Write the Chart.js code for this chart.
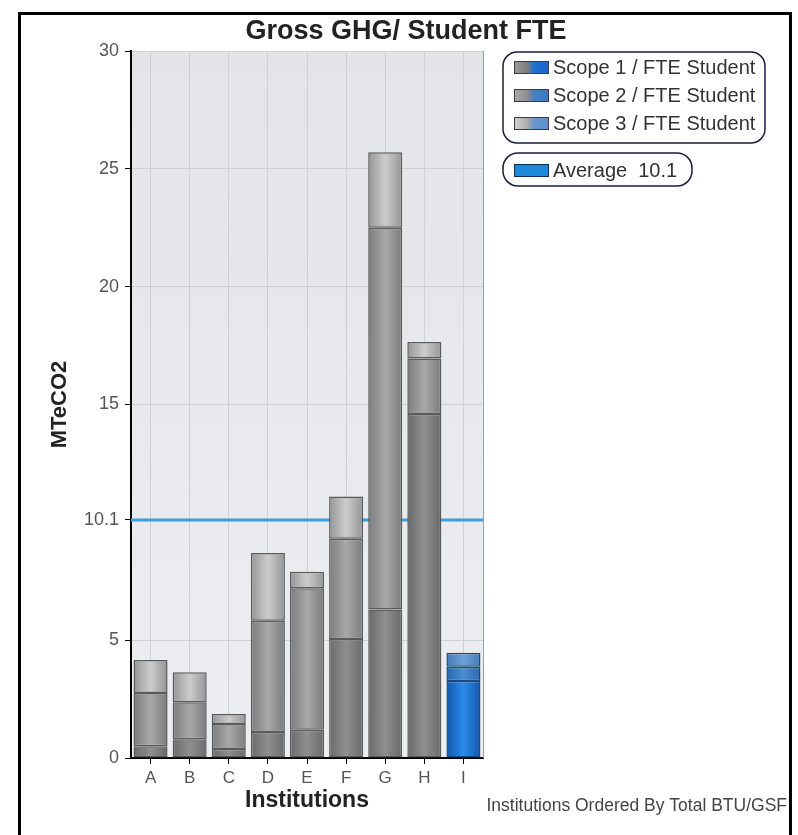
<!DOCTYPE html>
<html>
<head>
<meta charset="utf-8">
<script src="https://cdn.jsdelivr.net/npm/chart.js@4/dist/chart.umd.min.js"></script>
<style>
  html, body { margin: 0; padding: 0; background: #fff; }
  #wrap { position: relative; width: 798px; height: 835px; }
  #frame { position: absolute; left: 18px; top: 12px; width: 768px; height: 840px;
           border: 3px solid #000; border-bottom: none; pointer-events: none; }
</style>
</head>
<body>
<div id="wrap">
  <canvas id="chart"></canvas>
  <div id="frame"></div>
</div>
<script>
const institutions = ['A', 'B', 'C', 'D', 'E', 'F', 'G', 'H', 'I'];
const scope1 = [0.5, 0.8, 0.38, 1.1, 1.2, 5.05, 6.3, 14.6, 3.27];
const scope2 = [2.26, 1.57, 1.06, 4.72, 6.0, 4.25, 16.2, 2.35, 0.6];
const scope3 = [1.4, 1.27, 0.43, 2.88, 0.7, 1.8, 3.2, 0.7, 0.6];
const seriesLabels = ['Scope 1 / FTE Student', 'Scope 2 / FTE Student', 'Scope 3 / FTE Student'];
const average = 10.1;
const yTicks = [0, 5, 10.1, 15, 20, 25, 30];
const highlighted = 'I';

const FONT = "Arial, 'Liberation Sans', sans-serif";
const BAR_PCT = 0.87;

// edge / centre shades for each scope, grey bars and the blue one
const greys = [['#6a6a6a', '#8f8f8f'], ['#7c7c7c', '#a8a8a8'], ['#959595', '#cccccc']];
const blues = [['#1256ae', '#2a8ceb'], ['#2a68ae', '#4b8cd3'], ['#467cb6', '#6ea2d8']];
const swatchStops = [
  ['#9a9a9a', '#7c7c7c', '#2472cc', '#1767cc'],
  ['#ababab', '#8c8c8c', '#4a82c2', '#3a78c0'],
  ['#d4d4d4', '#a9a9a9', '#6c9ace', '#5b8dca']
];

function barFill(scope) {
  return (c) => {
    const chart = c.chart;
    const pal = institutions[c.dataIndex] === highlighted ? blues[scope] : greys[scope];
    if (!chart.chartArea || !chart.scales.x) return pal[0];
    const xs = chart.scales.x;
    const cx = xs.getPixelForValue(c.dataIndex);
    const half = (xs.width / institutions.length) * BAR_PCT / 2;
    const g = chart.ctx.createLinearGradient(cx - half, 0, cx + half, 0);
    g.addColorStop(0, pal[0]);
    g.addColorStop(0.5, pal[1]);
    g.addColorStop(1, pal[0]);
    return g;
  };
}
const barBorder = (c) => institutions[c.dataIndex] === highlighted ? '#1a4a86' : '#5a5a5a';

function roundRect(ctx, x, y, w, h, r) {
  ctx.beginPath();
  ctx.moveTo(x + r, y);
  ctx.arcTo(x + w, y, x + w, y + h, r);
  ctx.arcTo(x + w, y + h, x, y + h, r);
  ctx.arcTo(x, y + h, x, y, r);
  ctx.arcTo(x, y, x + w, y, r);
  ctx.closePath();
}

const chrome = {
  id: 'chrome',
  beforeDraw(chart) {
    const { ctx, chartArea: a } = chart;
    const g = ctx.createLinearGradient(0, a.top, 0, a.bottom);
    g.addColorStop(0, '#e2e4e8');
    g.addColorStop(1, '#eceef1');
    ctx.save();
    ctx.fillStyle = g;
    ctx.fillRect(a.left, a.top, a.right - a.left, a.bottom - a.top);
    ctx.restore();
  },
  beforeDatasetsDraw(chart) {
    const { ctx, chartArea: a, scales: { y } } = chart;
    const py = y.getPixelForValue(average);
    ctx.save();
    ctx.strokeStyle = '#3a9fe2';
    ctx.lineWidth = 3;
    ctx.beginPath();
    ctx.moveTo(a.left, py);
    ctx.lineTo(a.right, py);
    ctx.stroke();
    ctx.restore();
  },
  afterDraw(chart) {
    const { ctx, chartArea: a } = chart;
    ctx.save();
    // right edge of plot
    ctx.strokeStyle = '#9a9da2';
    ctx.lineWidth = 1;
    ctx.beginPath();
    ctx.moveTo(a.right + 0.5, a.top);
    ctx.lineTo(a.right + 0.5, a.bottom);
    ctx.stroke();

    // title
    ctx.fillStyle = '#222';
    ctx.font = 'bold 27px ' + FONT;
    ctx.textAlign = 'center';
    ctx.textBaseline = 'middle';
    ctx.fillText('Gross GHG/ Student FTE', 406, 32);

    // legend boxes
    ctx.lineWidth = 1.5;
    ctx.strokeStyle = '#1c1c3c';
    ctx.fillStyle = '#fff';
    roundRect(ctx, 503, 52, 262, 91, 14);
    ctx.fill(); ctx.stroke();
    roundRect(ctx, 503, 153, 189, 33, 15);
    ctx.fill(); ctx.stroke();

    ctx.font = '20px ' + FONT;
    ctx.textAlign = 'left';
    seriesLabels.forEach((lab, i) => {
      const cy = 67 + i * 28;
      const sg = ctx.createLinearGradient(514, 0, 549, 0);
      const st = swatchStops[i];
      sg.addColorStop(0, st[0]); sg.addColorStop(0.4, st[1]);
      sg.addColorStop(0.55, st[2]); sg.addColorStop(1, st[3]);
      ctx.fillStyle = sg;
      ctx.fillRect(514, cy - 6, 35, 13);
      ctx.strokeStyle = '#3a3a4a';
      ctx.lineWidth = 1;
      ctx.strokeRect(514.5, cy - 5.5, 34, 12);
      ctx.fillStyle = '#333';
      ctx.fillText(lab, 553, cy + 1);
    });
    ctx.fillStyle = '#1a8ad8';
    ctx.fillRect(514, 164, 35, 13);
    ctx.strokeStyle = '#0c2c52';
    ctx.strokeRect(514.5, 164.5, 34, 12);
    ctx.fillStyle = '#333';
    ctx.fillText('Average  ' + average, 553, 171);

    // footer note
    ctx.font = '17.5px ' + FONT;
    ctx.fillStyle = '#444';
    ctx.textAlign = 'right';
    ctx.fillText('Institutions Ordered By Total BTU/GSF', 787, 806);
    ctx.restore();
  }
};

const mk = (i, data) => ({
  label: seriesLabels[i],
  data: data,
  backgroundColor: barFill(i),
  borderColor: barBorder,
  borderWidth: 1.5,
  borderSkipped: false,
  barPercentage: BAR_PCT,
  categoryPercentage: 1
});

new Chart(document.getElementById('chart'), {
  type: 'bar',
  data: {
    labels: institutions,
    datasets: [mk(0, scope1), mk(1, scope2), mk(2, scope3)]
  },
  options: {
    responsive: true,
    maintainAspectRatio: false,
    animation: false,
    layout: { padding: { left: 20, top: 51, right: 315, bottom: 0 } },
    plugins: {
      legend: { display: false },
      title: { display: false },
      tooltip: { enabled: false }
    },
    scales: {
      x: {
        stacked: true,
        afterFit: (s) => { s.height = 77; },
        grid: { offset: false, color: '#cdd0d5', tickColor: '#000', tickLength: 6 },
        border: { color: '#000', width: 2 },
        ticks: { color: '#555', font: { family: FONT, size: 17 }, padding: 4 },
        title: { display: true, text: 'Institutions', color: '#222',
                 font: { family: FONT, size: 23, weight: 'bold' }, padding: { top: 0, bottom: 21 } }
      },
      y: {
        stacked: true,
        min: 0,
        max: 30,
        afterFit: (s) => { s.width = 111; },
        afterBuildTicks: (s) => { s.ticks = yTicks.map(v => ({ value: v })); },
        grid: { color: '#cdd0d5', tickColor: '#000', tickLength: 6 },
        border: { color: '#000', width: 2 },
        ticks: { color: '#555', font: { family: FONT, size: 18 }, padding: 6,
                 callback: (v) => String(v) },
        title: { display: true, text: 'MTeCO2', color: '#222',
                 font: { family: FONT, size: 22, weight: 'bold' }, padding: { top: 27, bottom: 0 } }
      }
    }
  },
  plugins: [chrome]
});
</script>
</body>
</html>
